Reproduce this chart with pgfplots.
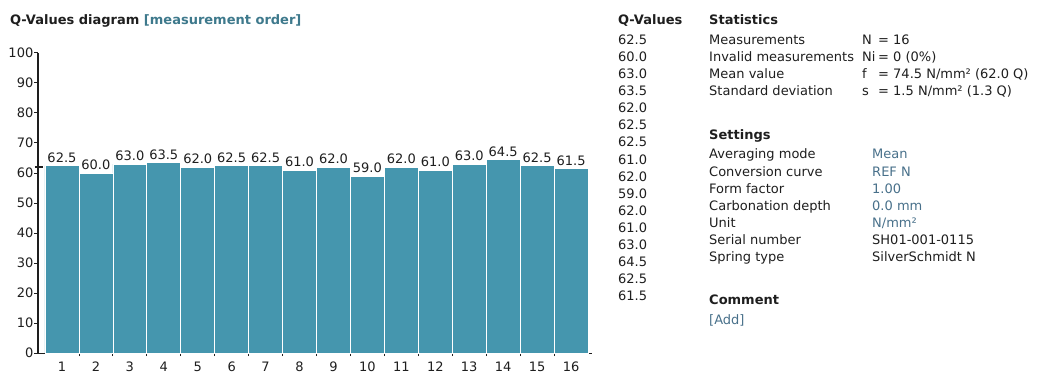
\documentclass[border=0pt]{standalone}
\usepackage{pgfplots}
\pgfplotsset{compat=1.18}
\usepackage{fontspec}
\setmainfont{DejaVu Sans}
\definecolor{barc}{RGB}{69,150,174}
\definecolor{titc}{RGB}{62,121,140}
\definecolor{linkc}{RGB}{72,112,138}
\definecolor{txt}{RGB}{30,30,30}
\newcommand{\fs}{\fontsize{13}{15}\selectfont}
\begin{document}
\begin{tikzpicture}[x=1pt,y=1pt]
\path[use as bounding box] (0,0) rectangle (1040,386);
\begin{axis}[
  at={(38pt,33pt)}, anchor=south west,
  scale only axis, width=554pt, height=300pt,
  xmin=0.294, xmax=16.617, ymin=0, ymax=100,
  axis y line*=left, axis x line*=bottom,
  clip=false,
  y axis line style={txt, line width=1.5pt},
  x axis line style={txt, line width=1pt},
  /pgf/number format/assume math mode=true,
  ytick={0,10,...,100},
  xtick={1,...,16},
  minor xtick={1.5,2.5,...,15.5},
  tick align=outside,
  major tick length=4pt,
  minor tick length=3pt,
  major x tick style={draw=none},
  minor x tick style={txt, line width=0.8pt},
  major y tick style={txt, line width=1pt},
  tick label style={font=\fs, text=txt},
  yticklabel style={inner sep=0.5pt},
  xticklabel style={yshift=-1pt},
]
\addplot[ybar, bar width=1, bar shift=0pt, fill=barc, draw=white, line width=0.7pt,
  nodes near coords={\pgfmathprintnumber[fixed,fixed zerofill,precision=1,assume math mode=true]{\pgfplotspointmeta}},
  every node near coord/.append style={font=\fs, text=txt, inner sep=2.5pt}]
coordinates {(1,62.5) (2,60.0) (3,63.0) (4,63.5) (5,62.0) (6,62.5) (7,62.5) (8,61.0)
 (9,62.0) (10,59.0) (11,62.0) (12,61.0) (13,63.0) (14,64.5) (15,62.5) (16,61.5)};
\addplot[txt, line width=1.3pt, sharp plot, forget plot] coordinates {(0.205,62) (0.44,62)};
\end{axis}
% title
\node[anchor=base west, font=\fs\bfseries, text=txt, inner sep=0] at (10,361) {Q-Values diagram \textcolor{titc}{[measurement order]}};
% Q-values column
\node[anchor=base west, font=\fs\bfseries, text=txt, inner sep=0] at (618,361) {Q-Values};
\foreach \v [count=\i from 0] in {62.5,60.0,63.0,63.5,62.0,62.5,62.5,61.0,62.0,59.0,62.0,61.0,63.0,64.5,62.5,61.5}
  \node[anchor=base west, font=\fs, text=txt, inner sep=0] at (618,{341-17*\i}) {\v};
% Statistics
\node[anchor=base west, font=\fs\bfseries, text=txt, inner sep=0] at (709,361) {Statistics};
\foreach \l/\a/\b [count=\i from 0] in {Measurements/N/{= 16}, Invalid measurements/Ni/{= 0 (0\%)}, Mean value/f/{= 74.5 N/mm² (62.0 Q)}, Standard deviation/s/{= 1.5 N/mm² (1.3 Q)}} {
  \node[anchor=base west, font=\fs, text=txt, inner sep=0] at (709,{341-17*\i}) {\l};
  \node[anchor=base west, font=\fs, text=txt, inner sep=0] at (862,{341-17*\i}) {\a};
  \node[anchor=base west, font=\fs, text=txt, inner sep=0] at (878,{341-17*\i}) {\b};
}
% Settings
\node[anchor=base west, font=\fs\bfseries, text=txt, inner sep=0] at (709,246) {Settings};
\foreach \l/\c/\v [count=\i from 0] in {Averaging mode/linkc/Mean, Conversion curve/linkc/REF N, Form factor/linkc/1.00, Carbonation depth/linkc/0.0 mm, Unit/linkc/{N/mm²}, Serial number/txt/SH01-001-0115, Spring type/txt/SilverSchmidt N} {
  \node[anchor=base west, font=\fs, text=txt, inner sep=0] at (709,{227-17*\i}) {\l};
  \node[anchor=base west, font=\fs, text=\c, inner sep=0] at (872,{227-17*\i}) {\v};
}
% Comment
\node[anchor=base west, font=\fs\bfseries, text=txt, inner sep=0] at (709,82) {Comment};
\node[anchor=base west, font=\fs, text=linkc, inner sep=0] at (709,62) {[Add]};
\end{tikzpicture}
\end{document}
